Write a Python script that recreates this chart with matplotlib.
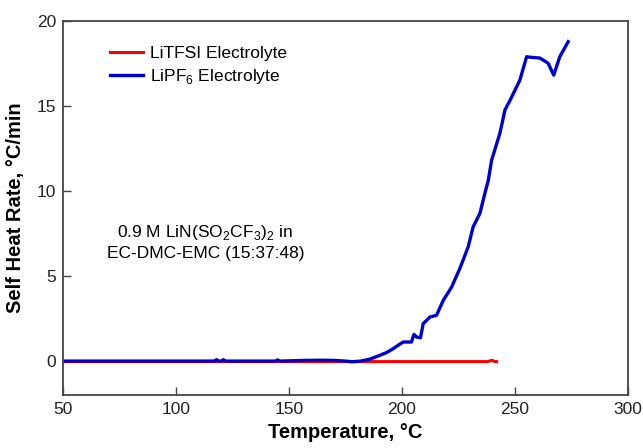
import matplotlib
matplotlib.use('Agg')
import matplotlib.pyplot as plt

plt.rcParams['font.family'] = ['Liberation Sans', 'DejaVu Sans']
plt.rcParams['mathtext.fontset'] = 'custom'
plt.rcParams['mathtext.rm'] = 'Liberation Sans'

# LiPF6 electrolyte, self heat rate vs temperature
temp_lipf6 = [50, 117, 118, 119, 120, 121, 122, 144, 145, 146, 157, 165, 170, 175, 178,
              182, 186, 190.3, 193.3, 196.2, 200.6, 204.3, 205.4, 206.6, 208.3, 209.5,
              212.5, 215.4, 218.4, 222.1, 225.7, 229.4, 231.6, 234.6, 236.8, 238.3,
              239.8, 243.5, 245.7, 247.9, 252.3, 255.3, 256.7, 261.2, 264.8, 267.3,
              270, 273.7]
rate_lipf6 = [0, 0, 0.08, 0, 0, 0.08, 0, 0, 0.07, 0, 0.04, 0.05, 0.04, 0.0, -0.04,
              0.0, 0.12, 0.34, 0.5, 0.73, 1.12, 1.12, 1.57, 1.41, 1.37, 2.2,
              2.59, 2.69, 3.57, 4.35, 5.43, 6.7, 7.88, 8.67, 9.85, 10.6,
              11.8, 13.4, 14.75, 15.3, 16.5, 17.88, 17.85, 17.8, 17.5, 16.8,
              17.88, 18.76]

# LiTFSI electrolyte
temp_litfsi = [50, 180, 200, 220, 238, 240, 241, 242]
rate_litfsi = [-0.03, -0.03, -0.03, -0.03, -0.03, 0.05, -0.02, -0.03]

fig = plt.figure(figsize=(6.43, 4.48), dpi=100)
ax = fig.add_axes([0.098, 0.118, 0.878, 0.836])

ax.plot(temp_litfsi, rate_litfsi, color='#ff0000', lw=2.2, label='LiTFSI Electrolyte')
ax.plot(temp_lipf6, rate_lipf6, color='#0000cc', lw=2.4, label='LiPF$_6$ Electrolyte')

ax.set_xlim(50, 300)
ax.set_ylim(-2, 20)
ax.set_xticks([50, 100, 150, 200, 250, 300])
ax.set_yticks([0, 5, 10, 15, 20])
ax.tick_params(direction='in', length=6, width=1, color='#444444', labelsize=12.5,
               labelcolor='#222222', top=False, right=False, pad=5)
for s in ax.spines.values():
    s.set_color('#444444')
    s.set_linewidth(1.3)

ax.set_xlabel('Temperature, \u00b0C', fontsize=14.5, fontweight='bold', labelpad=4)
ax.set_ylabel('Self Heat Rate, \u00b0C/min', fontsize=14.5, fontweight='bold', labelpad=8)

ax.legend(loc='upper left', bbox_to_anchor=(0.055, 0.975), frameon=False, fontsize=12.5,
          handlelength=1.9, handletextpad=0.45, labelspacing=0.35)

ax.text(113, 7.0, '0.9 M LiN(SO$_2$CF$_3$)$_2$ in\nEC-DMC-EMC (15:37:48)',
        ha='center', va='center', fontsize=12.5, linespacing=1.35)

fig.savefig('out.png', dpi=100)
